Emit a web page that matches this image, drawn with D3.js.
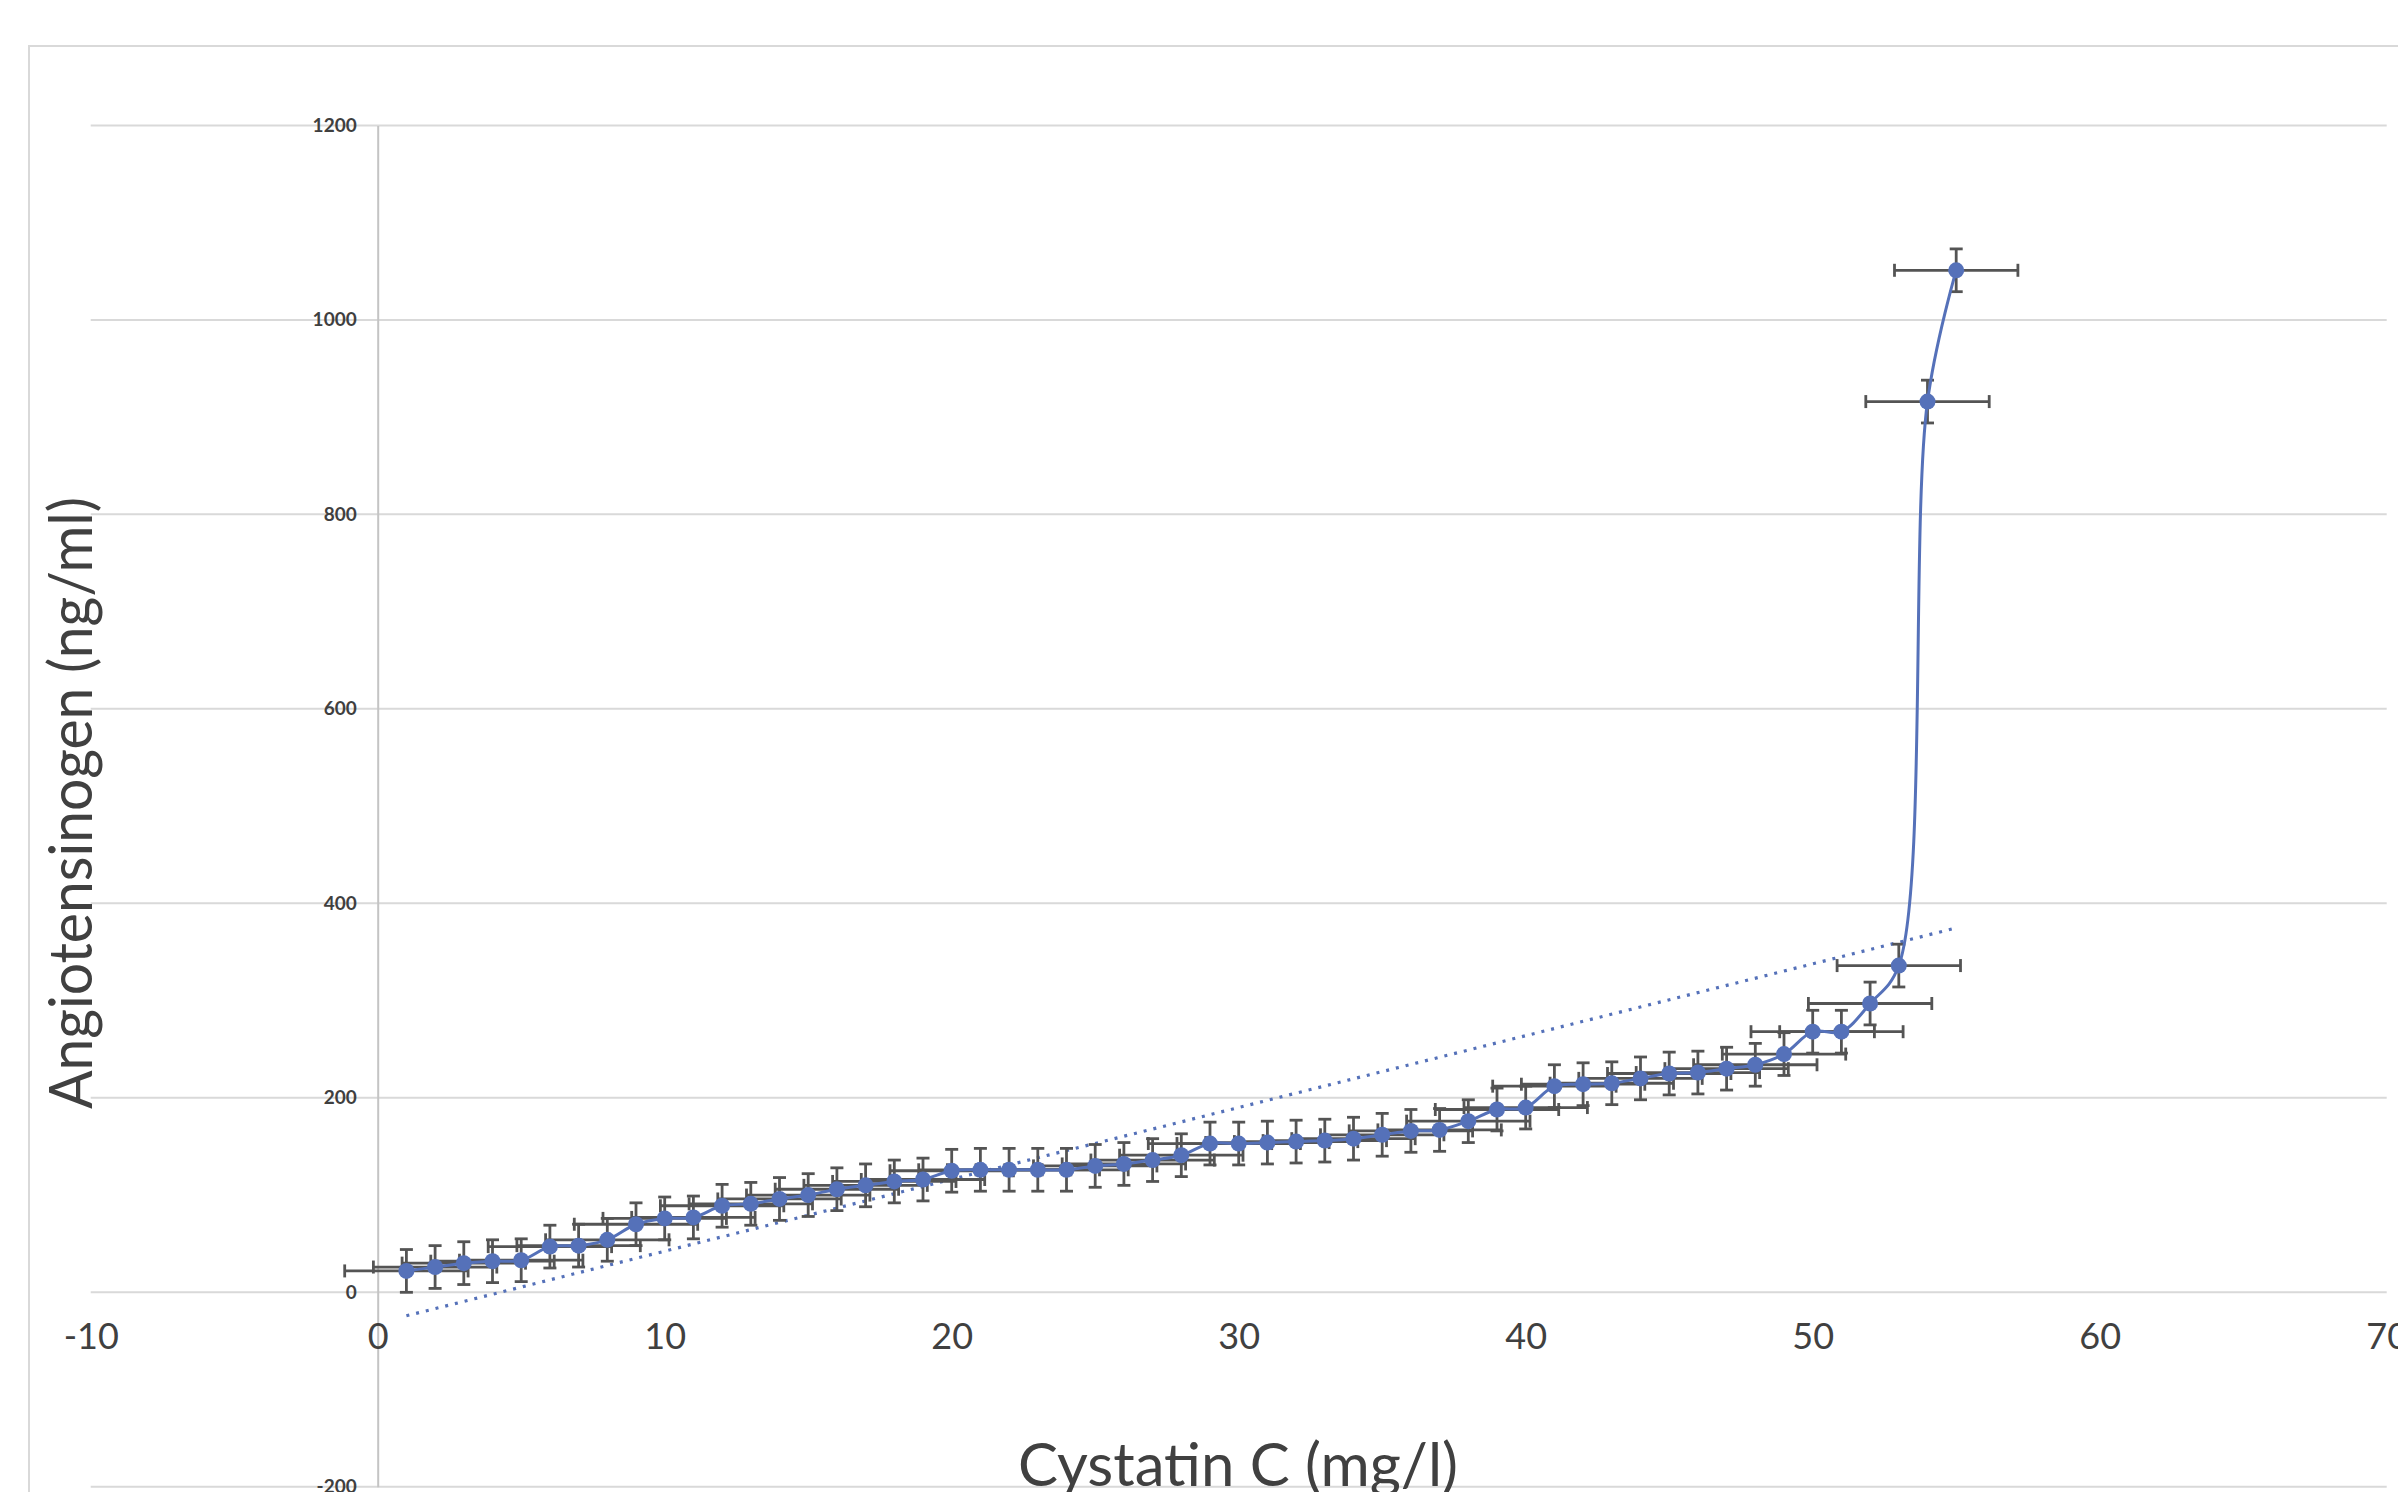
<html>

<head>
    <style>
        body {
            margin: 0;
            background-color: #ffffff;
        }

        #container text {
            font-family: Lato, "Open Sans", sans-serif;
        }

        .yTicks text {
            font-size: 19px;
            font-weight: bold;
            fill: #3f3f3f;
        }

        .xTicks text {
            font-size: 36px;
            fill: #404040;
        }

        .title {
            font-size: 60px;
            fill: #404040;
        }
    </style>
</head>

<body>
    <svg id="container" width="2398" height="1492" xmlns="http://www.w3.org/2000/svg" version="1.1">
        <g id="frame"></g>
        <g id="grid"></g>
        <g id="yAxis"></g>
        <g id="xAxis"></g>
        <g id="trend"></g>
        <g id="errors"></g>
        <g id="body"></g>
        <g id="titles"></g>
    </svg>
</body>
<script src="https://cdn.jsdelivr.net/npm/d3@7"></script>
<script>
    // Cystatin C (mg/l) on x, Angiotensinogen (ng/ml) on y
    let cystatin = [1, 2, 3, 4, 5, 6, 7, 8, 9, 10,
        11, 12, 13, 14, 15, 16, 17, 18, 19, 20,
        21, 22, 23, 24, 25, 26, 27, 28, 29, 30,
        31, 32, 33, 34, 35, 36, 37, 38, 39, 40,
        41, 42, 43, 44, 45, 46, 47, 48, 49, 50,
        51, 52, 53, 54, 55]

    let angiotensinogen = [22, 26, 30, 32, 33, 47, 48, 54, 70, 76,
        77, 89, 91, 96, 100, 106, 110, 114, 116, 125,
        126, 126, 126, 126, 130, 132, 136, 141, 153, 153,
        154, 155, 156, 158, 162, 166, 167, 176, 188, 190,
        212, 214, 215, 220, 225, 226, 230, 234, 245, 268,
        268, 297, 336, 916, 1051]

    // error bar amounts (same for every point)
    let xError = 2.15
    let yError = 22

    let xTicks = [-10, 0, 10, 20, 30, 40, 50, 60, 70]
    let yTicks = [-200, 0, 200, 400, 600, 800, 1000, 1200]

    let blue = "#5571b9"
    let barColor = "#545454"

    let container = d3.select("#container")
    let body = d3.select("#body")

    let xScale = d3.scaleLinear().domain([-10, 70]).range([90.7, 2386.7])
    let yScale = d3.scaleLinear().domain([-200, 1200]).range([1486.8, 125.4])

    let data = cystatin.map((x, i) => ({ x: x, y: angiotensinogen[i] }))

    // outer chart border (runs off the right and bottom)
    d3.select("#frame").append("rect")
        .attr("x", 29).attr("y", 46)
        .attr("width", 2500).attr("height", 1600)
        .attr("fill", "none")
        .attr("stroke", "#d9d9d9")
        .attr("stroke-width", 2)

    d3.select("#grid").selectAll("line")
        .data(yTicks)
        .enter()
        .append("line")
        .attr("x1", xScale(-10))
        .attr("x2", xScale(70))
        .attr("y1", d => yScale(d))
        .attr("y2", d => yScale(d))
        .attr("stroke", "#d9d9d9")
        .attr("stroke-width", 2)

    let yAxis = d3.axisLeft(yScale)
        .tickValues(yTicks)
        .tickSize(0)
        .tickPadding(21)
        .tickFormat(d => String(d))
    let yAxisGroup = d3.select("#yAxis")
        .attr("class", "yTicks")
        .attr("transform", `translate(${xScale(0)},0)`)
        .call(yAxis)
    yAxisGroup.select(".domain").attr("stroke", "#c4c4c4").attr("stroke-width", 2)

    let xAxis = d3.axisBottom(xScale)
        .tickValues(xTicks)
        .tickSize(0)
        .tickPadding(31)
        .tickFormat(d => String(d))
    let xAxisGroup = d3.select("#xAxis")
        .attr("class", "xTicks")
        .attr("transform", `translate(0,${yScale(0)})`)
        .call(xAxis)
    xAxisGroup.select(".domain").remove()
    container.selectAll(".tick text").attr("font-family", null)

    // linear trendline (least squares)
    let mx = d3.mean(cystatin)
    let my = d3.mean(angiotensinogen)
    let sxy = d3.sum(data, d => (d.x - mx) * (d.y - my))
    let sxx = d3.sum(data, d => (d.x - mx) * (d.x - mx))
    let slope = sxy / sxx
    let intercept = my - slope * mx
    let xMin = d3.min(cystatin), xMax = d3.max(cystatin)

    d3.select("#trend").append("line")
        .attr("x1", xScale(xMin))
        .attr("y1", yScale(intercept + slope * xMin))
        .attr("x2", xScale(xMax))
        .attr("y2", yScale(intercept + slope * xMax))
        .attr("stroke", blue)
        .attr("stroke-width", 3.2)
        .attr("stroke-dasharray", "3 7")

    // error bars
    let cap = 6.5
    let errors = d3.select("#errors").selectAll("g")
        .data(data)
        .enter()
        .append("g")
        .attr("stroke", barColor)
        .attr("stroke-width", 2.8)

    errors.append("line")
        .attr("x1", d => xScale(d.x - xError))
        .attr("x2", d => xScale(d.x + xError))
        .attr("y1", d => yScale(d.y))
        .attr("y2", d => yScale(d.y))
    errors.append("line")
        .attr("x1", d => xScale(d.x - xError))
        .attr("x2", d => xScale(d.x - xError))
        .attr("y1", d => yScale(d.y) - cap)
        .attr("y2", d => yScale(d.y) + cap)
    errors.append("line")
        .attr("x1", d => xScale(d.x + xError))
        .attr("x2", d => xScale(d.x + xError))
        .attr("y1", d => yScale(d.y) - cap)
        .attr("y2", d => yScale(d.y) + cap)
    errors.append("line")
        .attr("x1", d => xScale(d.x))
        .attr("x2", d => xScale(d.x))
        .attr("y1", d => yScale(d.y - yError))
        .attr("y2", d => yScale(d.y + yError))
    errors.append("line")
        .attr("x1", d => xScale(d.x) - cap)
        .attr("x2", d => xScale(d.x) + cap)
        .attr("y1", d => yScale(d.y + yError))
        .attr("y2", d => yScale(d.y + yError))
    errors.append("line")
        .attr("x1", d => xScale(d.x) - cap)
        .attr("x2", d => xScale(d.x) + cap)
        .attr("y1", d => yScale(d.y - yError))
        .attr("y2", d => yScale(d.y - yError))

    // smoothed series line
    let line = d3.line()
        .x(d => xScale(d.x))
        .y(d => yScale(d.y))
        .curve(d3.curveCatmullRom)

    body.append("path")
        .datum(data)
        .attr("d", line)
        .attr("fill", "none")
        .attr("stroke", blue)
        .attr("stroke-width", 3)

    body.selectAll("circle")
        .data(data)
        .enter()
        .append("circle")
        .attr("cx", d => xScale(d.x))
        .attr("cy", d => yScale(d.y))
        .attr("r", 8)
        .style("fill", blue)

    let titles = d3.select("#titles")
    titles.append("text")
        .attr("class", "title")
        .attr("text-anchor", "middle")
        .attr("transform", "translate(92,803) rotate(-90)")
        .attr("textLength", 612)
        .attr("lengthAdjust", "spacingAndGlyphs")
        .text("Angiotensinogen (ng/ml)")

    titles.append("text")
        .attr("class", "title")
        .attr("text-anchor", "middle")
        .attr("x", 1238)
        .attr("y", 1486)
        .attr("textLength", 440)
        .attr("lengthAdjust", "spacingAndGlyphs")
        .text("Cystatin C (mg/l)")
</script>

</html>
